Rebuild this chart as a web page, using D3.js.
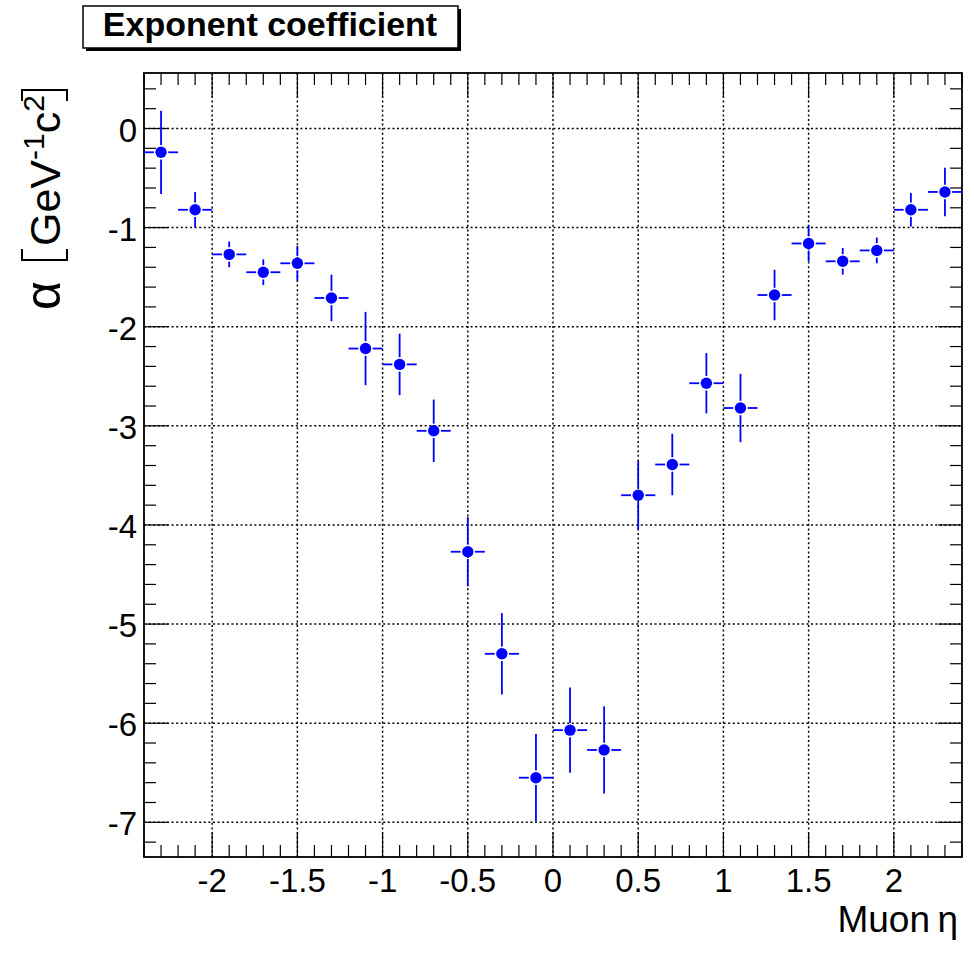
<!DOCTYPE html>
<html>
<head>
<meta charset="utf-8">
<script src="https://cdn.jsdelivr.net/npm/d3@7"></script>
<style>
  body { margin: 0; background: #fff; }
  text { font-family: "Liberation Sans", Arial, sans-serif; }
</style>
</head>
<body>
<svg id="chart" width="974" height="958"></svg>
<script>
// Bin centres in muon eta, fitted exponent coefficient and its error
var etaBins = [-2.3, -2.1, -1.9, -1.7, -1.5, -1.3, -1.1, -0.9, -0.7, -0.5, -0.3, -0.1,
               0.1, 0.3, 0.5, 0.7, 0.9, 1.1, 1.3, 1.5, 1.7, 1.9, 2.1, 2.3];
var alphaValues = [-0.24, -0.82, -1.27, -1.45, -1.36, -1.71, -2.22, -2.38, -3.05, -4.27, -5.30, -6.55,
                   -6.07, -6.27, -3.70, -3.39, -2.57, -2.82, -1.68, -1.16, -1.34, -1.23, -0.82, -0.64];
var alphaErrors = [0.42, 0.18, 0.13, 0.13, 0.175, 0.235, 0.37, 0.31, 0.315, 0.35, 0.41, 0.44,
                   0.43, 0.44, 0.345, 0.31, 0.305, 0.345, 0.255, 0.18, 0.135, 0.13, 0.17, 0.245];
var binHalfWidth = 0.1;

var xTicks = [-2, -1.5, -1, -0.5, 0, 0.5, 1, 1.5, 2];
var yTicks = [0, -1, -2, -3, -4, -5, -6, -7];

var svg = d3.select('#chart'),
    frame = { left: 144, right: 962, top: 73, bottom: 857 },
    blue = '#0000ff',
    markerR = 5.7;

var x = d3.scaleLinear().domain([-2.4, 2.4]).range([frame.left, frame.right]),
    y = d3.scaleLinear().domain([-7.35, 0.56]).range([frame.bottom, frame.top]);

var xMinor = d3.range(-24, 25).map(function(i) { return i / 10; }),
    yMinor = d3.range(-36, 3).map(function(i) { return i / 5; });

// Dotted grid at the major ticks
var grid = svg.append('g')
    .attr('stroke', '#000')
    .attr('stroke-width', 1.5)
    .attr('stroke-dasharray', '2,2.6');

grid.selectAll('line.gx').data(xTicks).enter().append('line')
    .attr('x1', function(d) { return x(d); })
    .attr('x2', function(d) { return x(d); })
    .attr('y1', frame.top)
    .attr('y2', frame.bottom);

grid.selectAll('line.gy').data(yTicks).enter().append('line')
    .attr('y1', function(d) { return y(d); })
    .attr('y2', function(d) { return y(d); })
    .attr('x1', frame.left)
    .attr('x2', frame.right);

// Ticks on all four sides, ROOT style (inside the frame)
var ticks = svg.append('g').attr('stroke', '#000').attr('stroke-width', 1.2);
var isMajorX = function(d) { return Math.abs(d * 2 - Math.round(d * 2)) < 1e-6; },
    isMajorY = function(d) { return Math.abs(d - Math.round(d)) < 1e-6; };

ticks.selectAll('line.bx').data(xMinor).enter().append('line')
    .attr('x1', function(d) { return x(d); })
    .attr('x2', function(d) { return x(d); })
    .attr('y1', frame.bottom)
    .attr('y2', function(d) { return frame.bottom - (isMajorX(d) ? 24 : 12); });

ticks.selectAll('line.tx').data(xMinor).enter().append('line')
    .attr('x1', function(d) { return x(d); })
    .attr('x2', function(d) { return x(d); })
    .attr('y1', frame.top)
    .attr('y2', function(d) { return frame.top + (isMajorX(d) ? 24 : 12); });

ticks.selectAll('line.ly').data(yMinor).enter().append('line')
    .attr('y1', function(d) { return y(d); })
    .attr('y2', function(d) { return y(d); })
    .attr('x1', frame.left)
    .attr('x2', function(d) { return frame.left + (isMajorY(d) ? 24 : 12); });

ticks.selectAll('line.ry').data(yMinor).enter().append('line')
    .attr('y1', function(d) { return y(d); })
    .attr('y2', function(d) { return y(d); })
    .attr('x1', frame.right)
    .attr('x2', function(d) { return frame.right - (isMajorY(d) ? 24 : 12); });

svg.append('rect')
    .attr('x', frame.left)
    .attr('y', frame.top)
    .attr('width', frame.right - frame.left)
    .attr('height', frame.bottom - frame.top)
    .attr('fill', 'none')
    .attr('stroke', '#000')
    .attr('stroke-width', 1.8);

// Tick labels
svg.selectAll('text.xl').data(xTicks).enter().append('text')
    .attr('x', function(d) { return x(d); })
    .attr('y', 892)
    .attr('text-anchor', 'middle')
    .attr('font-size', 33)
    .text(function(d) { return d; });

svg.selectAll('text.yl').data(yTicks).enter().append('text')
    .attr('x', 137)
    .attr('y', function(d) { return y(d) + 13; })
    .attr('text-anchor', 'end')
    .attr('font-size', 33)
    .text(function(d) { return d; });

// Points with error bars; the bars stop short of the marker like ROOT does
var points = etaBins.map(function(eta, i) {
  return { eta: eta, v: alphaValues[i], e: alphaErrors[i] };
});
var gap = markerR + 1.5;

var bars = svg.append('g').attr('stroke', blue).attr('stroke-width', 1.8);
points.forEach(function(p) {
  var cx = x(p.eta), cy = y(p.v);
  var segs = [
    [x(p.eta - binHalfWidth), cy, cx - gap, cy],
    [cx + gap, cy, x(p.eta + binHalfWidth), cy],
    [cx, y(p.v + p.e), cx, cy - gap],
    [cx, cy + gap, cx, y(p.v - p.e)]
  ];
  segs.forEach(function(s) {
    bars.append('line')
        .attr('x1', s[0]).attr('y1', s[1])
        .attr('x2', s[2]).attr('y2', s[3]);
  });
});

svg.selectAll('circle.pt').data(points).enter().append('circle')
    .attr('cx', function(d) { return x(d.eta); })
    .attr('cy', function(d) { return y(d.v); })
    .attr('r', markerR)
    .attr('fill', blue);

// Title box with shadow
svg.append('rect').attr('x', 86).attr('y', 9).attr('width', 375).attr('height', 42).attr('fill', '#000');
svg.append('rect').attr('x', 83).attr('y', 6).attr('width', 375).attr('height', 42)
    .attr('fill', '#fff').attr('stroke', '#000').attr('stroke-width', 1.5);
svg.append('text')
    .attr('x', 270).attr('y', 36)
    .attr('text-anchor', 'middle')
    .attr('font-size', 34)
    .attr('font-weight', 'bold')
    .text('Exponent coefficient');

// X axis title
svg.append('text')
    .attr('x', 958).attr('y', 932)
    .attr('text-anchor', 'end')
    .attr('font-size', 37)
    .text('Muon\u2009\u03b7');

// Y axis title: alpha [GeV^-1 c^2] with thin drawn brackets
var yt = svg.append('g').attr('transform', 'translate(60,318) rotate(-90)');
var u = 8;
var put = function(parts, size) {
  var t = yt.append('text').attr('x', u).attr('y', 0).attr('font-size', size);
  parts.forEach(function(p) {
    t.append('tspan')
        .attr('font-size', p.sup ? 30 : size)
        .attr('dy', p.dy || 0)
        .text(p.s);
  });
  u += t.node().getComputedTextLength();
};
var bracket = function(open) {
  var top = -38, bot = 7, w = 11, s = open ? 1 : -1, bx = open ? u + 2 : u + 5;
  yt.append('path')
      .attr('d', 'M' + (bx + s * w) + ',' + top + 'H' + bx + 'V' + bot + 'H' + (bx + s * w))
      .attr('fill', 'none')
      .attr('stroke', '#000')
      .attr('stroke-width', 2);
  u += 16;
};

put([{ s: '\u03b1' }], 50);
u = Math.max(u + 12, 56);
bracket(true);
put([{ s: 'GeV' }, { s: '-1', sup: true, dy: -16 }, { s: 'c', dy: 16 }, { s: '2', sup: true, dy: -16 }], 43);
bracket(false);
</script>
</body>
</html>
